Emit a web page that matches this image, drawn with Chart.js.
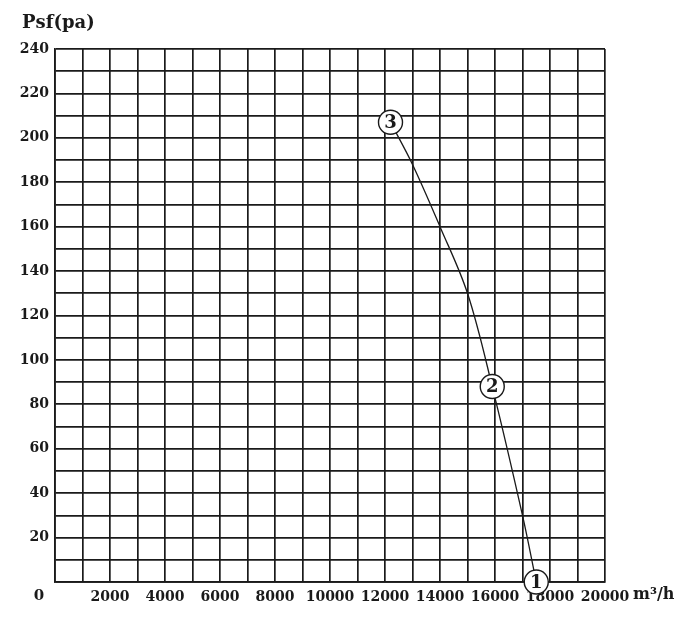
<!DOCTYPE html>
<html>
<head>
<meta charset="utf-8">
<script src="https://cdn.jsdelivr.net/npm/chart.js@4.4.1/dist/chart.umd.min.js"></script>
<style>
html,body{margin:0;padding:0;background:#fff;}
#wrap{width:700px;height:625px;position:relative;}
</style>
</head>
<body>
<div id="wrap"><canvas id="c" width="700" height="625"></canvas></div>
<script>
// Curve (flow m³/h, pressure Pa)
const curveFlow = [12200, 13000, 14000, 15000, 15900, 17000, 17500];
const curvePressure = [207, 188, 160, 130, 88, 30, 0];
// Numbered operating points
const markerFlow = [17500, 15900, 12200];
const markerPressure = [0, 88, 207];
const markerLabels = ['1', '2', '3'];
// Axis settings
const xMax = 20000, xStep = 1000, xLabelStep = 2000;
const yMax = 240, yStep = 10, yLabelStep = 20;
const yTitle = 'Psf(pa)';
const xUnit = 'm³/h';
const originLabel = '0';

const FONT = '"DejaVu Serif", "Liberation Serif", serif';
const INK = '#1a1a1a';

const extras = {
  id: 'extras',
  afterDatasetsDraw(chart) {
    const ctx = chart.ctx;
    const meta = chart.getDatasetMeta(0);
    ctx.save();
    ctx.fillStyle = INK;
    ctx.font = 'bold 18px ' + FONT;
    ctx.textAlign = 'center';
    ctx.textBaseline = 'middle';
    meta.data.forEach((pt, i) => {
      ctx.fillText(markerLabels[i], pt.x, pt.y + 1);
    });
    ctx.restore();
  },
  afterDraw(chart) {
    const ctx = chart.ctx;
    const area = chart.chartArea;
    ctx.save();
    ctx.fillStyle = INK;
    ctx.textBaseline = 'middle';
    ctx.font = 'bold 18px ' + FONT;
    ctx.textAlign = 'left';
    ctx.fillText(yTitle, 22, 23);
    ctx.font = 'bold 15px ' + FONT;
    ctx.textAlign = 'center';
    ctx.fillText(originLabel, 39, area.bottom + 14);
    ctx.font = 'bold 16px ' + FONT;
    ctx.textAlign = 'left';
    ctx.fillText(xUnit, area.right + 28, area.bottom + 13);
    ctx.restore();
  }
};

new Chart(document.getElementById('c'), {
  type: 'scatter',
  data: {
    datasets: [
      {
        label: 'points',
        data: markerFlow.map((x, i) => ({x: x, y: markerPressure[i]})),
        pointRadius: 12,
        pointHoverRadius: 12,
        pointBackgroundColor: '#fff',
        pointBorderColor: INK,
        pointBorderWidth: 1.4,
        showLine: false,
        clip: false,
        order: 0
      },
      {
        label: 'curve',
        data: curveFlow.map((x, i) => ({x: x, y: curvePressure[i]})),
        showLine: true,
        borderColor: INK,
        borderWidth: 1.3,
        pointRadius: 0,
        tension: 0.35,
        fill: false,
        clip: false,
        order: 1
      }
    ]
  },
  options: {
    responsive: false,
    animation: false,
    devicePixelRatio: 1,
    layout: {padding: {left: 0, top: 49, right: 95, bottom: 0}},
    plugins: {legend: {display: false}, tooltip: {enabled: false}, title: {display: false}},
    scales: {
      x: {
        type: 'linear', min: 0, max: xMax,
        afterFit(s) { s.height = 43; },
        border: {display: true, color: INK, width: 1.7},
        grid: {color: INK, lineWidth: 1.7, drawTicks: false},
        ticks: {
          stepSize: xStep, autoSkip: false, maxRotation: 0, padding: 7,
          color: INK, font: {family: FONT, size: 14, weight: 'bold'},
          callback: v => (v !== 0 && v % xLabelStep === 0) ? String(v) : ''
        }
      },
      y: {
        type: 'linear', min: 0, max: yMax,
        afterFit(s) { s.width = 55; },
        border: {display: true, color: INK, width: 1.7},
        grid: {color: INK, lineWidth: 1.7, drawTicks: false},
        ticks: {
          stepSize: yStep, autoSkip: false, padding: 6,
          color: INK, font: {family: FONT, size: 14, weight: 'bold'},
          callback: v => (v !== 0 && v % yLabelStep === 0) ? String(v) : ''
        }
      }
    }
  },
  plugins: [extras]
});
</script>
</body>
</html>
